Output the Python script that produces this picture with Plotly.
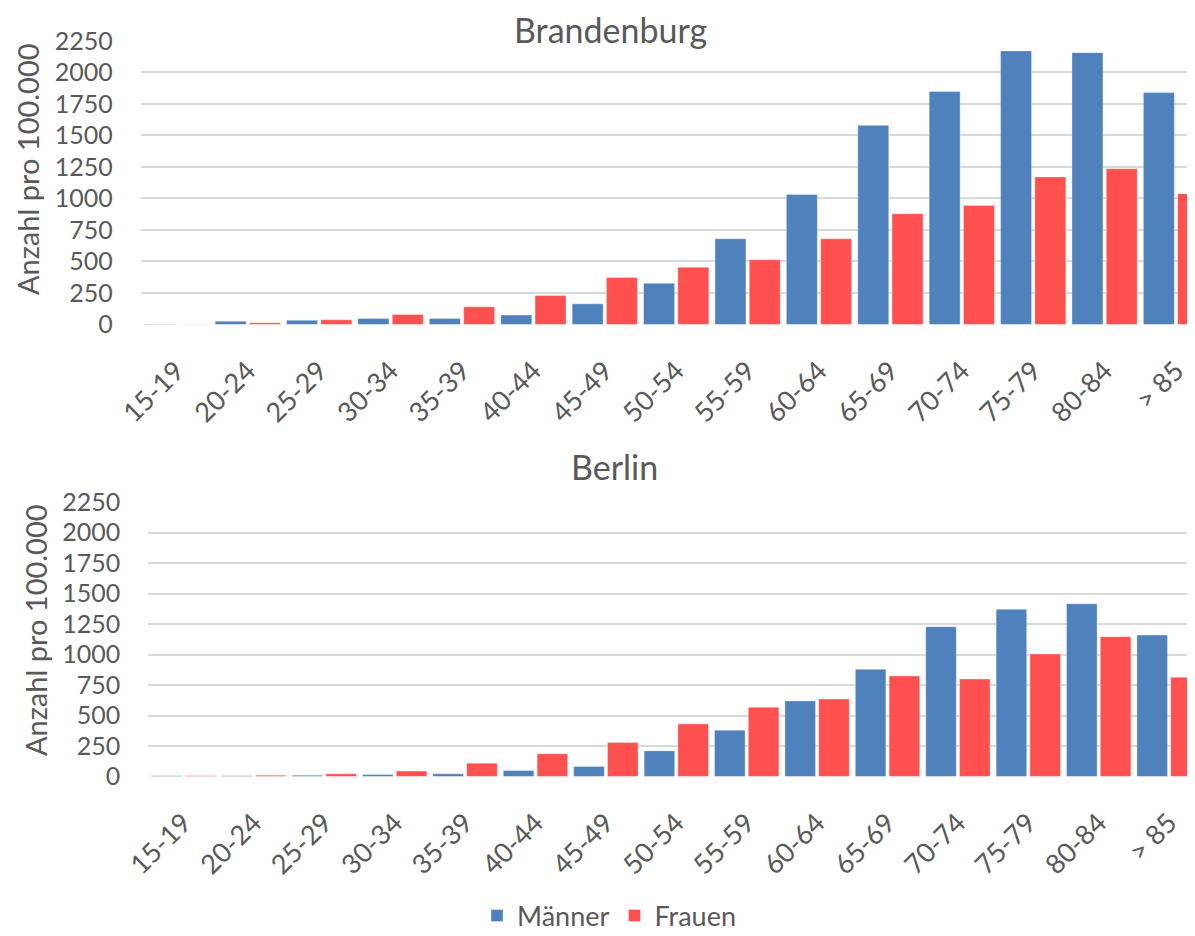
import plotly.graph_objects as go

categories = ["15-19", "20-24", "25-29", "30-34", "35-39", "40-44", "45-49", "50-54",
              "55-59", "60-64", "65-69", "70-74", "75-79", "80-84", "> 85"]

brb_maenner = [3, 25, 33, 48, 48, 74, 164, 326, 680, 1032, 1580, 1848, 2171, 2157, 1840]
brb_frauen = [2, 14, 37, 79, 140, 230, 373, 453, 514, 680, 879, 945, 1170, 1236, 1038]

ber_maenner = [5, 5, 10, 16, 22, 49, 82, 210, 380, 620, 879, 1229, 1371, 1417, 1160]
ber_frauen = [5, 10, 22, 44, 109, 186, 278, 431, 568, 636, 825, 800, 1005, 1147, 814]

y_ticks = [0, 250, 500, 750, 1000, 1250, 1500, 1750, 2000, 2250]

BLUE = "#4F81BD"
RED = "#FF5050"
TXT = "#595959"
GRID = "#D9D9D9"
FONT = "Lato"

# page has an 8px body margin; figure fills the rest of the 1195x936 window
OFF = 8
PW, PH = 1195, 936
W, H = PW - OFF, PH - OFF

def px(x):
    return (x - OFF) / W

def py(y):
    return 1 - (y - OFF) / H

fig = go.Figure()

line_b = dict(color="rgba(255,255,255,0.35)", width=1)

fig.add_trace(go.Bar(x=list(range(len(categories))), y=brb_maenner, name="Männer",
                     marker=dict(color=BLUE, line=line_b), xaxis="x", yaxis="y",
                     legendgroup="m"))
fig.add_trace(go.Bar(x=list(range(len(categories))), y=brb_frauen, name="Frauen",
                     marker=dict(color=RED, line=line_b), xaxis="x", yaxis="y",
                     legendgroup="f"))
fig.add_trace(go.Bar(x=list(range(len(categories))), y=ber_maenner, name="Männer",
                     marker=dict(color=BLUE, line=line_b), xaxis="x2", yaxis="y2",
                     legendgroup="m", showlegend=False))
fig.add_trace(go.Bar(x=list(range(len(categories))), y=ber_frauen, name="Frauen",
                     marker=dict(color=RED, line=line_b), xaxis="x2", yaxis="y2",
                     legendgroup="f", showlegend=False))

# pixel geometry (reference page pixels)
top_left, top_pitch = 140.7, 71.4
bot_left, bot_pitch = 148.3, 70.4
top_xmax = -0.5 + (PW - top_left) / top_pitch
bot_xmax = -0.5 + (PW - bot_left) / bot_pitch

xcommon = dict(
    tickmode="array", tickvals=list(range(len(categories))), ticktext=categories,
    tickangle=-45, showgrid=False, zeroline=False, showline=False, ticks="",
    tickfont=dict(family=FONT, size=27, color=TXT), automargin=False,
    ticklabelstandoff=24,
)
ycommon = dict(
    tickmode="array", tickvals=y_ticks, range=[-2, 2252],
    showgrid=True, gridcolor=GRID, gridwidth=1.5, zeroline=False, showline=False,
    ticks="", tickfont=dict(family=FONT, size=25, color=TXT), automargin=False,
    ticklabelstandoff=27,
)

ann_font = dict(family=FONT, size=34, color=TXT)
ytitle_font = dict(family=FONT, size=29, color=TXT)

fig.update_layout(
    width=W, height=H,
    margin=dict(l=0, r=0, t=0, b=0, autoexpand=False),
    paper_bgcolor="white", plot_bgcolor="white",
    barmode="group", bargap=0.04, bargroupgap=0.096,
    font=dict(family=FONT, color=TXT),
    xaxis=dict(domain=[px(top_left), 1], range=[-0.5, top_xmax], anchor="y", **xcommon),
    yaxis=dict(domain=[py(324.7), py(40.7)], anchor="x", **ycommon),
    xaxis2=dict(domain=[px(bot_left), 1], range=[-0.5, bot_xmax], anchor="y2", **xcommon),
    yaxis2=dict(domain=[py(776.7), py(502)], anchor="x2", **ycommon),
    legend=dict(orientation="h", x=px(609), xanchor="center", y=py(916),
                yanchor="middle", font=dict(family=FONT, size=27, color=TXT),
                itemwidth=30, traceorder="normal"),
    showlegend=True,
    annotations=[
        dict(text="Brandenburg", x=px(611), y=py(30), xref="paper", yref="paper",
             xanchor="center", yanchor="middle", showarrow=False, font=ann_font),
        dict(text="Berlin", x=px(615), y=py(466), xref="paper", yref="paper",
             xanchor="center", yanchor="middle", showarrow=False, font=ann_font),
        dict(text="Anzahl pro 100.000", x=px(27), y=py(169), xref="paper", yref="paper",
             xanchor="center", yanchor="middle", textangle=-90, showarrow=False,
             font=ytitle_font),
        dict(text="Anzahl pro 100.000", x=px(35), y=py(630), xref="paper", yref="paper",
             xanchor="center", yanchor="middle", textangle=-90, showarrow=False,
             font=ytitle_font),
    ],
)

fig.write_html("out.html")
